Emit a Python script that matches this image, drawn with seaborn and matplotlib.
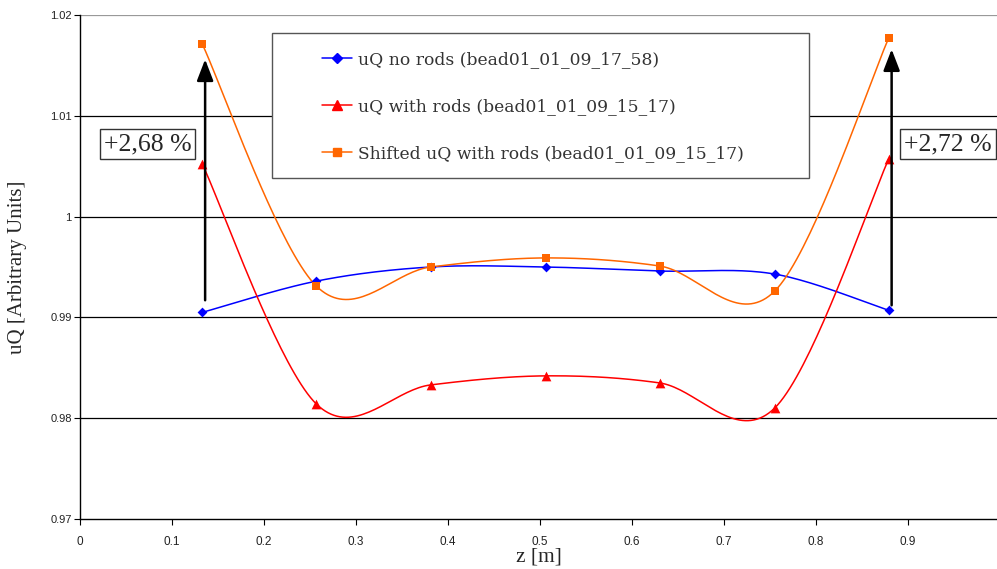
import numpy as np
import pandas as pd
import matplotlib
matplotlib.use("Agg")
import matplotlib.pyplot as plt
import seaborn as sns
from matplotlib.lines import Line2D
from matplotlib.patches import Rectangle

# ---- data ----
z = [0.133, 0.257, 0.381, 0.506, 0.630, 0.755, 0.879]
uq_no_rods = [0.9905, 0.9936, 0.9950, 0.9950, 0.9946, 0.9943, 0.9907]
uq_with_rods = [1.0052, 0.9814, 0.9833, 0.9842, 0.9835, 0.9810, 1.0057]
uq_shifted = [1.0171, 0.9931, 0.9950, 0.9959, 0.9951, 0.9926, 1.0177]

labels = ["uQ no rods (bead01_01_09_17_58)",
          "uQ with rods (bead01_01_09_15_17)",
          "Shifted uQ with rods (bead01_01_09_15_17)"]
colors = ["#0000FF", "#FF0000", "#FF6600"]
markers = ["D", "^", "s"]
msizes = [5, 7, 6]

annot_left = "+2,68 %"
annot_right = "+2,72 %"
xticks = [0, 0.1, 0.2, 0.3, 0.4, 0.5, 0.6, 0.7, 0.8, 0.9, 1.0]
xticklabels = ["0", "0.1", "0.2", "0.3", "0.4", "0.5", "0.6", "0.7", "0.8", "0.9", ""]
yticks = [0.97, 0.98, 0.99, 1.00, 1.01, 1.02]
yticklabels = ["0.97", "0.98", "0.99", "1", "1.01", "1.02"]


def smooth(xs, ys, n=40):
    """Excel-like Bezier smoothing through the points (for the drawn line)."""
    P = np.column_stack([xs, ys]).astype(float)
    ext = np.vstack([P[0], P, P[-1]])
    out = []
    t = np.linspace(0, 1, n)[:, None]
    for i in range(len(P) - 1):
        p0, p1, p2, p3 = ext[i], ext[i + 1], ext[i + 2], ext[i + 3]
        c1 = p1 + (p2 - p0) / 6.0
        c2 = p2 - (p3 - p1) / 6.0
        seg = ((1 - t) ** 3) * p1 + 3 * ((1 - t) ** 2) * t * c1 + 3 * (1 - t) * t ** 2 * c2 + t ** 3 * p2
        out.append(seg if i == 0 else seg[1:])
    S = np.vstack(out)
    return S[:, 0], S[:, 1]


sns.set_theme(style="white")
plt.rcParams["font.family"] = ["DejaVu Sans"]

W, H = 997, 569
fig = plt.figure(figsize=(W / 100, H / 100), dpi=100)
fig.patch.set_facecolor("white")
ax_l, ax_r, ax_t, ax_b = 80, 1000, 15, 519
ax = fig.add_axes([ax_l / W, (H - ax_b) / H, (ax_r - ax_l) / W, (ax_b - ax_t) / H])
ax.set_xlim(0, 1.0)
ax.set_ylim(0.97, 1.02)


def px2ax(px, py):
    return (px - ax_l) / (ax_r - ax_l), (ax_b - py) / (ax_b - ax_t)


# grid lines
for yv in [0.98, 0.99, 1.00, 1.01]:
    ax.axhline(yv, color="black", lw=0.9, zorder=1)
ax.axhline(1.02, color="#999999", lw=0.9, zorder=1)

series = [uq_no_rods, uq_with_rods, uq_shifted]
for vals, lab, col, mk, ms in zip(series, labels, colors, markers, msizes):
    sx, sy = smooth(z, vals)
    line_df = pd.DataFrame({"z": sx, "uQ": sy})
    sns.lineplot(data=line_df, x="z", y="uQ", sort=False, color=col, lw=1.1,
                 ax=ax, zorder=3, estimator=None)
    pt_df = pd.DataFrame({"z": z, "uQ": vals})
    sns.scatterplot(data=pt_df, x="z", y="uQ", marker=mk, color=col, s=ms ** 2,
                    edgecolor=col, linewidth=0, ax=ax, zorder=4)

# arrows
ax.annotate("", xy=(0.136, 1.0156), xytext=(0.136, 0.9917),
            arrowprops=dict(arrowstyle="-|>,head_length=0.65,head_width=0.25",
                            lw=1.8, color="black", mutation_scale=20,
                            shrinkA=0, shrinkB=0), zorder=5)
ax.annotate("", xy=(0.8822, 1.0166), xytext=(0.8822, 0.9912),
            arrowprops=dict(arrowstyle="-|>,head_length=0.65,head_width=0.25",
                            lw=1.8, color="black", mutation_scale=20,
                            shrinkA=0, shrinkB=0), zorder=5)

tfont = dict(family=["Liberation Serif", "DejaVu Serif"], size=18.5)
bx = dict(boxstyle="square,pad=0.15", fc="white", ec="#333333", lw=1)
ax.text(0.0734, 1.0072, annot_left, ha="center", va="center", bbox=bx, zorder=6, **tfont)
ax.text(0.8958, 1.0072, annot_right, ha="left", va="center", bbox=bx, zorder=6, **tfont)

# legend frame
lx0, ly1 = px2ax(272, 33)
lx1, ly0 = px2ax(809, 178)
ax.add_patch(Rectangle((lx0, ly0), lx1 - lx0, ly1 - ly0, transform=ax.transAxes,
                       fc="white", ec="#555555", lw=1, zorder=7))
handles = [Line2D([], [], color=c, marker=m, markersize=s, lw=1.1)
           for c, m, s in zip(colors, markers, msizes)]
leg = ax.legend(handles, labels, loc="upper left", bbox_to_anchor=px2ax(322, 51),
                frameon=False, borderpad=0, borderaxespad=0, handlelength=1.75,
                handletextpad=0.35, labelspacing=1.77,
                prop=dict(family="DejaVu Serif", size=12.3))
leg.set_zorder(8)
for t in leg.get_texts():
    t.set_color("#333333")

# spines / ticks
for s in ["top", "right"]:
    ax.spines[s].set_visible(False)
for s in ["left", "bottom"]:
    ax.spines[s].set_visible(True)
    ax.spines[s].set_color("black")
    ax.spines[s].set_linewidth(1)
ax.set_xticks(xticks)
ax.set_xticklabels(xticklabels, family="Liberation Sans", size=8.5, color="#222222")
ax.set_yticks(yticks)
ax.set_yticklabels(yticklabels, family="Liberation Sans", size=8, color="#222222")
ax.tick_params(axis="both", direction="out", length=4, width=0.8, color="black",
               bottom=True, left=True)
ax.tick_params(axis="x", pad=8)
ax.tick_params(axis="y", pad=2)

ax.set_xlabel("z [m]", family="Liberation Serif", size=15.5, va="center")
ax.xaxis.set_label_coords(*px2ax(539, 557))
ax.set_ylabel("uQ [Arbitrary Units]", family="Liberation Serif", size=15, va="center")
ax.yaxis.set_label_coords(*px2ax(18, 267))

fig.savefig("out.png", dpi=100)
